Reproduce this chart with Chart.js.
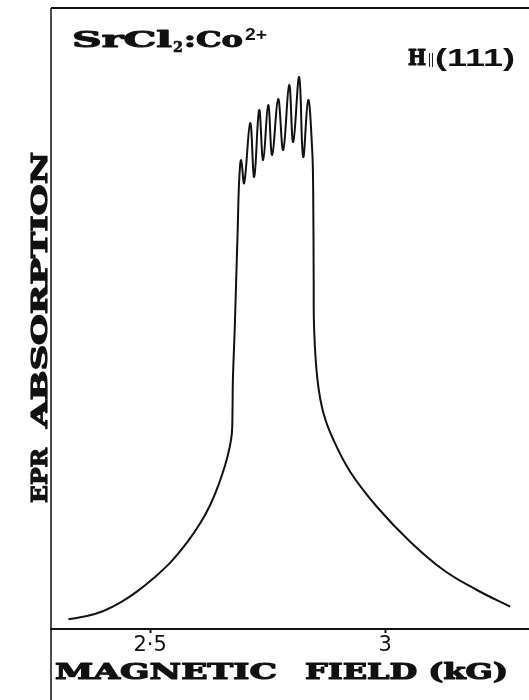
<!DOCTYPE html>
<html>

<head>
  <meta charset="utf-8">
  <title>SrCl2:Co2+ EPR absorption</title>
  <script src="https://cdn.jsdelivr.net/npm/chart.js@4.4.1/dist/chart.umd.min.js"></script>
  <style>
    html, body { margin: 0; padding: 0; background: #fff; }
  </style>
</head>

<body>
  <canvas id="eprChart" width="529" height="700"></canvas>

  <script>
    // trace: field in kG, absorption in arbitrary units (0-100)
    const fieldKG = [
      2.3262, 2.3653, 2.4006, 2.4362, 2.4717, 2.5070, 2.5426, 2.5781, 2.6064, 2.6277,
      2.6453, 2.6596, 2.6687, 2.6738, 2.6751, 2.6760, 2.6798, 2.6830, 2.6862, 2.6894,
      2.6936, 2.7000, 2.7128, 2.7213, 2.7319, 2.7404, 2.7511, 2.7596, 2.7723, 2.7830,
      2.7957, 2.8043, 2.8170, 2.8255, 2.8362, 2.8447, 2.8468, 2.8479, 2.8489, 2.8560,
      2.8687, 2.8900, 2.9255, 2.9823, 3.0532, 3.1240, 3.1951, 3.2660
    ];
    const absorption = [
      1.56, 2.09, 2.90, 4.24, 6.01, 8.16, 10.68, 13.90, 17.02, 19.97,
      23.19, 26.41, 29.10, 31.51, 34.73, 40.10, 48.15, 56.20, 64.25, 72.30,
      75.52, 71.82, 81.48, 72.79, 83.57, 75.52, 84.38, 76.33, 85.35, 77.13,
      87.60, 78.42, 88.89, 76.01, 85.19, 77.13, 70.69, 56.20, 48.15, 40.10,
      34.73, 30.43, 25.33, 19.69, 14.06, 9.50, 6.28, 3.59
    ];
    const xTicks = [2.5, 3];
    const xTickLabels = ['2·5', '3'];
    const fieldMin = 2.289;
    const fieldMax = 3.306;

    const sampleName = ['SrCl', '2', ':Co', '2+'];
    const fieldDir = ['H', '||', '(111)'];
    const yTitle = ['EPR', 'ABSORPTION'];
    const xTitle = ['MAGNETIC', 'FIELD (kG)'];

    const ink = '#111';
    const slab = (px) => 'bold ' + px + 'px "DejaVu Serif"';

    // draw text stretched sideways to a given width (the original lettering is very wide);
    // heavy > 0 adds an outline to thicken the strokes
    function wideText(ctx, str, x, y, font, w, heavy) {
      ctx.save();
      ctx.font = font;
      const m = ctx.measureText(str).width;
      ctx.translate(x, y);
      ctx.scale(w / m, 1);
      ctx.fillText(str, 0, 0);
      if (heavy) {
        ctx.lineWidth = heavy;
        ctx.lineJoin = 'round';
        ctx.strokeText(str, 0, 0);
      }
      ctx.restore();
    }

    const lettering = {
      id: 'lettering',
      afterDraw(chart) {
        const ctx = chart.ctx;
        const a = chart.chartArea;
        ctx.save();
        ctx.strokeStyle = ink;
        ctx.fillStyle = ink;
        ctx.textAlign = 'left';
        ctx.textBaseline = 'alphabetic';

        // frame: top edge, left edge running down past the axis
        ctx.lineWidth = 2;
        ctx.beginPath();
        ctx.moveTo(a.left, a.top);
        ctx.lineTo(a.right, a.top);
        ctx.stroke();
        ctx.lineWidth = 1.5;
        ctx.beginPath();
        ctx.moveTo(a.left, a.top);
        ctx.lineTo(a.left, chart.height);
        ctx.stroke();

        // SrCl2:Co2+
        wideText(ctx, sampleName[0], a.left + 21, a.top + 39, slab(22), 100, 1);
        wideText(ctx, sampleName[1], a.left + 122, a.top + 44, slab(14), 10, 0.6);
        wideText(ctx, sampleName[2], a.left + 133, a.top + 39, slab(22), 59, 1);
        wideText(ctx, sampleName[3], a.left + 194, a.top + 32, 'bold 17px "Liberation Sans"', 22, 0);

        // H || (111)
        wideText(ctx, fieldDir[0], a.left + 357, a.top + 57, slab(22), 18, 1.2);
        wideText(ctx, fieldDir[1], a.left + 377, a.top + 56, '15px "Liberation Sans"', 6, 0);
        wideText(ctx, fieldDir[2], a.left + 384, a.top + 58, 'bold 23px "Liberation Sans Narrow", "Liberation Sans"', 80, 0);

        // x title
        wideText(ctx, xTitle[0], a.left + 4, a.bottom + 50, slab(23), 222, 1.2);
        wideText(ctx, xTitle[1], a.left + 254, a.bottom + 50, slab(23), 203, 1.2);

        // y title, reading upwards
        ctx.save();
        ctx.translate(47, a.bottom - 126);
        ctx.rotate(-Math.PI / 2);
        wideText(ctx, yTitle[0], 0, 0, slab(23), 55, 1.2);
        wideText(ctx, yTitle[1], 75, 0, slab(23), 276, 1.2);
        ctx.restore();

        ctx.restore();
      }
    };

    const chart = new Chart(document.getElementById('eprChart'), {
      type: 'line',
      data: {
        datasets: [{
          label: 'EPR absorption',
          data: fieldKG.map((f, i) => ({ x: f, y: absorption[i] })),
          borderColor: ink,
          borderWidth: 2,
          pointRadius: 0,
          fill: false,
          tension: 0.4
        }]
      },
      options: {
        responsive: false,
        animation: false,
        devicePixelRatio: 1,
        layout: { padding: { top: 8, right: 0, bottom: 0, left: 0 } },
        plugins: {
          legend: { display: false },
          tooltip: { enabled: false }
        },
        scales: {
          x: {
            type: 'linear',
            min: fieldMin,
            max: fieldMax,
            afterBuildTicks: (scale) => { scale.ticks = xTicks.map(v => ({ value: v })); },
            afterFit: (scale) => { scale.height = 71; },
            grid: { display: true, drawOnChartArea: false, drawTicks: true, tickLength: 4, color: ink, tickWidth: 2 },
            border: { display: true, color: ink, width: 2 },
            ticks: {
              padding: 0,
              color: ink,
              maxRotation: 0,
              font: { family: '"DejaVu Sans"', size: 21 },
              callback: (v) => xTickLabels[xTicks.indexOf(v)]
            }
          },
          y: {
            min: 0,
            max: 100,
            afterFit: (scale) => { scale.width = 51; },
            grid: { display: false },
            border: { display: false },
            ticks: { display: false }
          }
        }
      },
      plugins: [lettering]
    });
  </script>
</body>

</html>
